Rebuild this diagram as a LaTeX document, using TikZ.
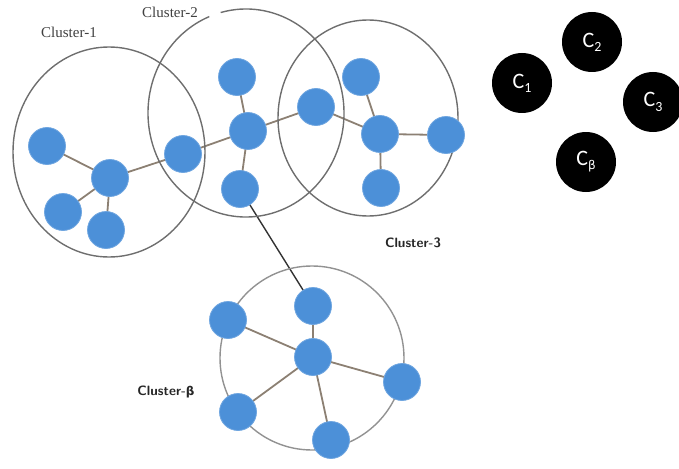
\documentclass[tikz,border=0pt]{standalone}
\usepackage{fontspec}
\usetikzlibrary{backgrounds}
\setmainfont{Liberation Serif}
\newfontfamily\calib{Carlito}
\newfontfamily\dejasans{DejaVu Sans}
\definecolor{nodeblue}{RGB}{76,144,216}
\definecolor{ringgray}{RGB}{110,110,110}
\definecolor{linkgray}{RGB}{140,128,115}
\begin{document}
\begin{tikzpicture}[x=1pt,y=-1pt,
  dot/.style={circle,fill=nodeblue,draw=nodeblue!80!white,line width=0.8pt,minimum size=37pt,inner sep=0pt},
  hub/.style={circle,fill=black,minimum size=60pt,inner sep=0pt,text=white,font=\calib\fontsize{22}{22}\selectfont},
  sub/.style={},
  ring/.style={draw=ringgray,line width=1.4pt},
  link/.style={draw=linkgray,line width=1.8pt},
  lbl/.style={text=black!75,font=\fontsize{15}{15}\selectfont},
  blbl/.style={text=black!85,font=\bfseries\sffamily\fontsize{13.5}{13.5}\selectfont}]
\useasboundingbox (0,0) rectangle (679,468);

% cluster boundaries
\draw[ring] (109,152) ellipse [x radius=96, y radius=105];
\draw[ring] (246,113) ++(-105:98 and 104) arc [start angle=-105, end angle=248, x radius=98, y radius=104];
\draw[ring] (368,118) ellipse [x radius=90, y radius=98];
\draw[ring,draw=ringgray!75] (312,358) circle [radius=92];

% labels
\node[lbl] (l1) at (69,32) {Cluster-1};
\node[lbl] (l2) at (170,12) {Cluster-2};
\node[blbl] (l3) at (413,243) {Cluster-3};
\node[blbl] (l4) at (166,392) {Cluster-{\dejasans\bfseries\fontsize{12}{12}\selectfont β}};

% cluster 1
\node[dot] (a1) at (47,146) {};
\node[dot] (a2) at (110,178) {};
\node[dot] (a3) at (63,212) {};
\node[dot] (a4) at (106,230) {};
\node[dot] (b)  at (183,154) {};
% cluster 2
\node[dot] (c1) at (237,77) {};
\node[dot] (c2) at (248,131) {};
\node[dot] (c3) at (240,189) {};
% cluster 3
\node[dot] (d1) at (316,107) {};
\node[dot] (d2) at (361,77) {};
\node[dot] (d3) at (380,134) {};
\node[dot] (d4) at (446,135) {};
\node[dot] (d5) at (381,188) {};
% cluster beta
\node[dot] (e1) at (313,306) {};
\node[dot] (e2) at (228,320) {};
\node[dot] (e3) at (313,357) {};
\node[dot] (e4) at (402,382) {};
\node[dot] (e5) at (238,412) {};
\node[dot] (e6) at (331,440) {};

% connections, kept beneath the nodes
\begin{scope}[on background layer]
\path[link] (a1.center) -- (a2.center);
\path[link] (a3.center) -- (a2.center);
\path[link] (a4.center) -- (a2.center);
\path[link] (a2.center) -- (b.center);
\path[link] (b.center) -- (c2.center);
\path[link] (c1.center) -- (c2.center);
\path[link] (c2.center) -- (c3.center);
\path[link] (c2.center) -- (d1.center);
\path[link] (d1.center) -- (d3.center);
\path[link] (d2.center) -- (d3.center);
\path[link] (d3.center) -- (d4.center);
\path[link] (d3.center) -- (d5.center);
\draw[black!80,line width=1.4pt] (c3.center) -- (e1.center);
\path[link] (e1.center) -- (e3.center);
\path[link] (e2.center) -- (e3.center);
\path[link] (e3.center) -- (e4.center);
\path[link] (e3.center) -- (e5.center);
\path[link] (e3.center) -- (e6.center);
\end{scope}

% centroids
\newcommand\hubsub[1]{\raisebox{-0.4ex}{\fontsize{14}{14}\selectfont #1}}
\node[hub] (h1) at (522,83) {C\hubsub{1}};
\node[hub] (h2) at (592,42) {C\hubsub{2}};
\node[hub] (h3) at (653,102) {C\hubsub{3}};
\node[hub] (h4) at (586,162) {C\hubsub{\dejasans\fontsize{12}{12}\selectfont β}};
\end{tikzpicture}
\end{document}
